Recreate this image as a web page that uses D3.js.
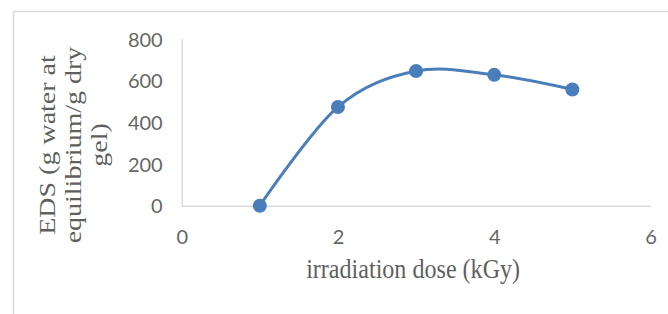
<!DOCTYPE html>
<html>
<head>
<meta charset="utf-8">
<script src="https://cdn.jsdelivr.net/npm/d3@7"></script>
<style>
  body { margin: 0; background: #fff; }
  svg { display: block; }
</style>
</head>
<body>
<div id="chart"></div>
<script>
// data
const doses = [1, 2, 3, 4, 5];
const eds = [0, 474, 646, 628, 558];
const xTicks = [0, 2, 4, 6];
const yTicks = [0, 200, 400, 600, 800];
const yTitleLines = ["EDS (g water at", "equilibrium/g dry", "gel)"];
const xTitle = "irradiation dose (kGy)";

const width = 668, height = 314;
const margin = { top: 39, right: 17.5, bottom: 108.3, left: 181.7 };
const squeeze = 0.86; // the picture is a bit narrowed sideways

const svg = d3.select("#chart").append("svg")
  .attr("width", width)
  .attr("height", height);

// chart area frame
svg.append("rect")
  .attr("x", 13.5).attr("y", 11.5)
  .attr("width", 700).attr("height", 400)
  .attr("fill", "none")
  .attr("stroke", "#d9d9d9")
  .attr("stroke-width", 1.5);

const x = d3.scaleLinear()
  .domain([0, 6])
  .range([margin.left, width - margin.right]);

const y = d3.scaleLinear()
  .domain([0, 800])
  .range([height - margin.bottom, margin.top]);

// axes
const xAxis = d3.axisBottom(x).tickValues(xTicks).tickFormat(d3.format("d"))
  .tickSize(0).tickPadding(24);
const yAxis = d3.axisLeft(y).tickValues(yTicks).tickFormat(d3.format("d"))
  .tickSize(0).tickPadding(19);

const gx = svg.append("g")
  .attr("transform", `translate(0,${y(0)})`)
  .call(xAxis);
const gy = svg.append("g")
  .attr("transform", `translate(${x(0)},0)`)
  .call(yAxis);

[gx, gy].forEach(g => {
  g.select(".domain").attr("stroke", "#c8c8c8").attr("stroke-width", 1);
  g.selectAll("text")
    .attr("fill", "#666")
    .style("font-family", "Lato, 'Open Sans', sans-serif")
    .style("font-size", "20px");
});
gy.selectAll("text").attr("dy", "0.36em");

// axis titles
svg.append("text")
  .attr("transform", `translate(${(x(0) + x(6)) / 2 - 3},278) scale(${squeeze},1)`)
  .attr("text-anchor", "middle")
  .attr("fill", "#5f5f5f")
  .style("font-family", "'Liberation Serif', 'Times New Roman', serif")
  .style("font-size", "28px")
  .text(xTitle);

yTitleLines.forEach((line, i) => {
  svg.append("text")
    .attr("transform", `translate(${55 + i * 26},145) scale(${squeeze},1) rotate(-90)`)
    .attr("text-anchor", "middle")
    .attr("fill", "#5f5f5f")
    .style("font-family", "'Liberation Serif', 'Times New Roman', serif")
    .style("font-size", "28px")
    .text(line);
});

// series
const points = doses.map((d, i) => ({ dose: d, value: eds[i] }));

const line = d3.line()
  .x(d => x(d.dose))
  .y(d => y(d.value))
  .curve(d3.curveCardinal.tension(0));

svg.append("path")
  .datum(points)
  .attr("fill", "none")
  .attr("stroke", "#4a7ebb")
  .attr("stroke-width", 3)
  .attr("d", line);

svg.selectAll("circle.marker")
  .data(points)
  .enter().append("circle")
  .attr("class", "marker")
  .attr("cx", d => x(d.dose))
  .attr("cy", d => y(d.value))
  .attr("r", 7)
  .attr("fill", "#4a7ebb");
</script>
</body>
</html>
